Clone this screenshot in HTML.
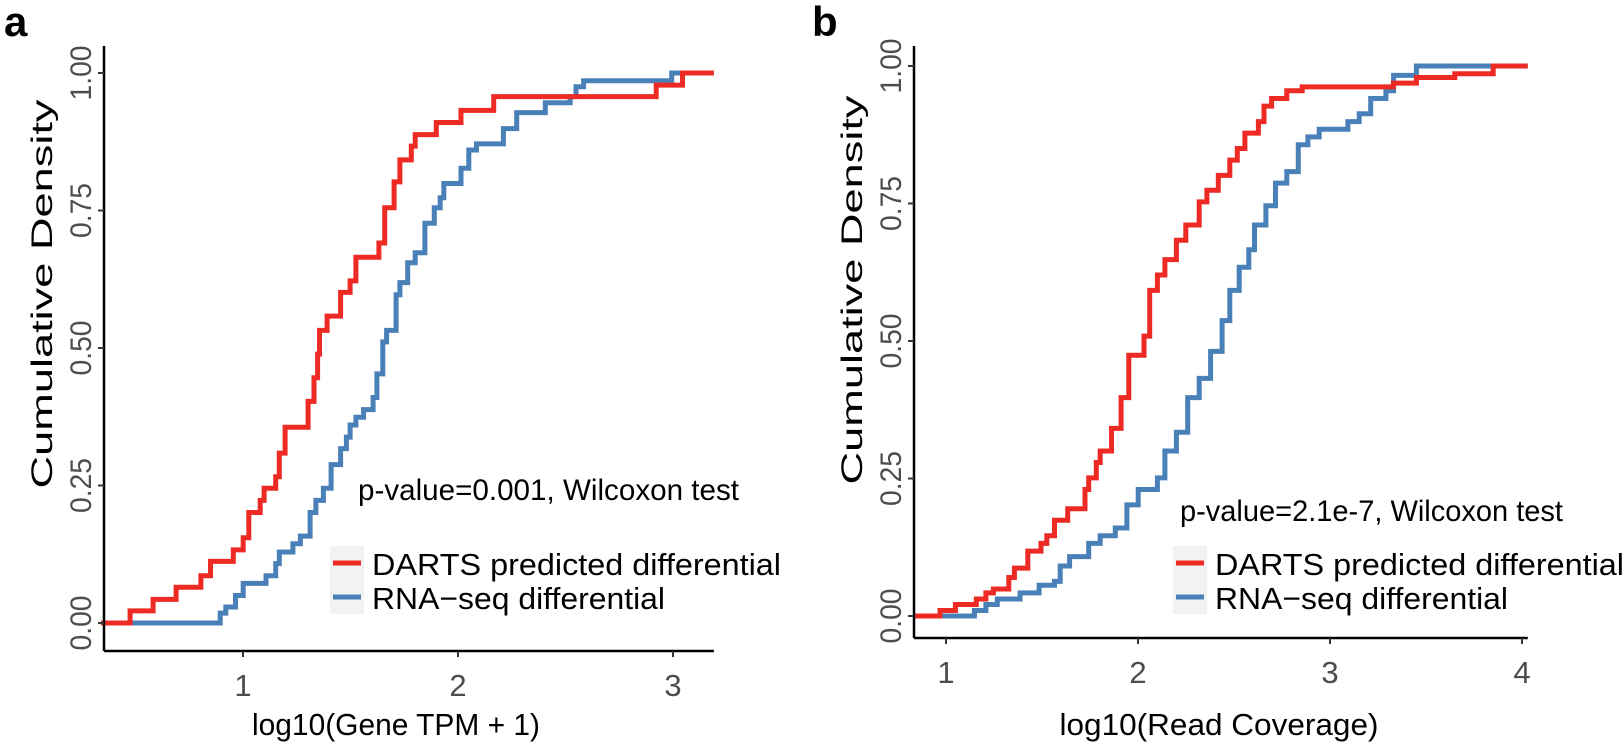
<!DOCTYPE html>
<html><head><meta charset="utf-8"><style>
html,body{margin:0;padding:0;background:#fff;}
svg{display:block;font-family:"Liberation Sans",Arial,sans-serif;}
</style></head><body>
<svg id="fig" width="1624" height="748" viewBox="0 0 1624 748" xmlns="http://www.w3.org/2000/svg">
<g id="pa"></g>
<g id="pb"></g>
</svg>
<script>
// Panel a data (log10 Gene TPM + 1 vs cumulative density)
const aRedX = [0.475,0.582,0.689,0.804,0.849,0.955,1.001,1.027,1.080,1.098,1.152,1.169,1.196,1.303,1.330,1.347,1.356,1.391,1.454,1.498,1.525,1.632,1.659,1.703,1.730,1.783,1.801,1.899,2.014,2.166,2.922,3.044];
const aRedY = [0.022,0.043,0.065,0.086,0.112,0.133,0.155,0.201,0.223,0.245,0.266,0.309,0.356,0.403,0.446,0.489,0.532,0.558,0.601,0.622,0.665,0.691,0.755,0.802,0.842,0.867,0.888,0.910,0.932,0.957,0.978,1.0];
const aBlueX = [0.894,0.920,0.965,1.001,1.107,1.152,1.169,1.232,1.267,1.312,1.339,1.374,1.410,1.454,1.481,1.498,1.525,1.561,1.605,1.623,1.650,1.668,1.712,1.730,1.766,1.801,1.846,1.890,1.917,1.934,2.014,2.050,2.086,2.211,2.273,2.406,2.522,2.549,2.584,2.994];
const aBlueY = [0.018,0.029,0.050,0.072,0.086,0.108,0.129,0.144,0.158,0.201,0.223,0.245,0.288,0.317,0.338,0.360,0.374,0.388,0.410,0.453,0.511,0.532,0.597,0.619,0.655,0.673,0.727,0.755,0.773,0.799,0.827,0.860,0.871,0.899,0.928,0.946,0.957,0.975,0.986,1.0];
// Panel b data (log10 Read Coverage vs cumulative density)
const bRedX = [0.969,1.049,1.158,1.208,1.247,1.327,1.356,1.426,1.495,1.525,1.565,1.634,1.724,1.743,1.783,1.803,1.862,1.912,1.952,2.031,2.061,2.101,2.140,2.200,2.249,2.319,2.359,2.418,2.478,2.517,2.557,2.627,2.656,2.696,2.775,2.855,3.330,3.450,3.650,3.850];
const bRedY = [0.010,0.021,0.031,0.042,0.049,0.070,0.087,0.118,0.132,0.146,0.174,0.195,0.230,0.251,0.279,0.300,0.341,0.397,0.474,0.509,0.592,0.620,0.648,0.683,0.711,0.753,0.774,0.801,0.829,0.850,0.878,0.899,0.927,0.941,0.955,0.962,0.969,0.979,0.986,1.0];
const bBlueX = [1.148,1.208,1.267,1.386,1.485,1.565,1.595,1.644,1.743,1.803,1.882,1.942,2.001,2.101,2.140,2.200,2.259,2.319,2.378,2.438,2.478,2.527,2.577,2.607,2.666,2.716,2.775,2.835,2.885,2.944,3.093,3.152,3.212,3.291,3.331,3.450];
const bBlueY = [0.010,0.021,0.031,0.042,0.056,0.063,0.091,0.108,0.132,0.146,0.160,0.202,0.230,0.251,0.300,0.334,0.397,0.432,0.481,0.537,0.592,0.634,0.666,0.711,0.746,0.787,0.808,0.857,0.871,0.885,0.899,0.913,0.941,0.955,0.983,1.0];
const yTicks = [0, 0.25, 0.5, 0.75, 1];
const yTickLabels = ["0.00","0.25","0.50","0.75","1.00"];
const aXTicks = [1, 2, 3];
const bXTicks = [1, 2, 3, 4];

const NS = "http://www.w3.org/2000/svg";
function mk(parent, tag, attrs, text){
  const e = document.createElementNS(NS, tag);
  for (const k in attrs) e.setAttribute(k, attrs[k]);
  if (text !== undefined) e.textContent = text;
  parent.appendChild(e);
  return e;
}
function drawPanel(cfg){
  const g = document.getElementById(cfg.id);
  const X = v => cfg.x1 + (v - 1) * cfg.unit;
  const Y = p => cfg.y0 - p * cfg.yspan;
  const xL = X(cfg.xmin), xR = X(cfg.xmax);
  const lt = mk(g, "text", {x: cfg.letterX, y: 36, "font-size": 42, "font-weight": "bold", fill: "#000"}, cfg.letter);
  
  
  function series(xs, ys, color, name){
    let d = "M" + xL + "," + Y(0);
    for (let i = 0; i < xs.length; i++){
      d += " H" + X(xs[i]).toFixed(1) + " V" + Y(ys[i]).toFixed(1);
    }
    d += " H" + xR;
    const p = mk(g, "path", {d: d, fill: "none", stroke: color, "stroke-width": 5, "stroke-linejoin": "miter"});
    
    
  }
  series(cfg.blueX, cfg.blueY, "#4a80b8", "rna-seq-cdf-line");
  series(cfg.redX, cfg.redY, "#ee2a24", "darts-cdf-line");
  const ya = mk(g, "line", {x1: cfg.axX, y1: 46, x2: cfg.axX, y2: cfg.axY, stroke: "#000", "stroke-width": 2.5});
  
  
  const xa = mk(g, "line", {x1: cfg.axX, y1: cfg.axY, x2: xR, y2: cfg.axY, stroke: "#000", "stroke-width": 2.5});
  
  
  yTicks.forEach((t, i) => {
    const y = Y(t);
    const tk = mk(g, "line", {x1: cfg.axX - 6, y1: y, x2: cfg.axX, y2: y, stroke: "#333", "stroke-width": 2});
    
    
    const tl = mk(g, "text", {x: 0, y: 0, transform: "translate(" + (cfg.axX - 13) + "," + y + ") rotate(-90)", "text-anchor": "middle", "font-size": 30, fill: "#4d4d4d", textLength: 55, lengthAdjust: "spacingAndGlyphs"}, yTickLabels[i]);
    
    
  });
  cfg.xTicks.forEach(t => {
    const x = X(t);
    const tk = mk(g, "line", {x1: x, y1: cfg.axY, x2: x, y2: cfg.axY + 6, stroke: "#333", "stroke-width": 2});
    
    
    const tl = mk(g, "text", {x: x, y: cfg.axY + 45, "text-anchor": "middle", "font-size": 31, fill: "#4d4d4d"}, String(t));
    
    
  });
  const xt = mk(g, "text", {x: cfg.xTitleX, y: 735, "text-anchor": "middle", "font-size": 31, fill: "#000", textLength: cfg.xTitleLen, lengthAdjust: "spacingAndGlyphs"}, cfg.xTitle);
  
  
  const yt = mk(g, "text", {x: 0, y: 0, transform: "translate(" + (cfg.axX - 52) + "," + cfg.yTitleY + ") rotate(-90)", "text-anchor": "middle", "font-size": 30, fill: "#000", textLength: 389, lengthAdjust: "spacingAndGlyphs"}, "Cumulative Density");
  
  
  const pv = mk(g, "text", {x: cfg.pX, y: cfg.pY, "font-size": 30, fill: "#000", textLength: cfg.pLen, lengthAdjust: "spacingAndGlyphs"}, cfg.pText);
  
  
  const entries = [["#ee2a24", "DARTS predicted differential", "legend-entry-darts", 409], ["#4a80b8", "RNA\u2212seq differential", "legend-entry-rna-seq", 293]];
  entries.forEach((e, i) => {
    const ly = cfg.legY + i * 34;
    const lg = mk(g, "g", {});
    
    
    mk(lg, "rect", {x: cfg.legX, y: ly, width: 34, height: 34, fill: "#f2f2f2"});
    mk(lg, "line", {x1: cfg.legX + 3, y1: ly + 17, x2: cfg.legX + 31, y2: ly + 17, stroke: e[0], "stroke-width": 5});
    mk(lg, "text", {x: cfg.legX + 42, y: ly + 29, "font-size": 31, fill: "#000", textLength: e[3], lengthAdjust: "spacingAndGlyphs"}, e[1]);
  });
}
drawPanel({id: "pa", letter: "a", letterX: 4, x1: 243, unit: 215, y0: 623, yspan: 550, xmin: 0.34, xmax: 3.19, axX: 104, axY: 651,
  xTicks: aXTicks, xTitle: "log10(Gene TPM + 1)", xTitleX: 396, xTitleLen: 288, yTitleY: 294, redX: aRedX, redY: aRedY, blueX: aBlueX, blueY: aBlueY,
  pX: 358, pY: 500, pLen: 381, pText: "p-value=0.001, Wilcoxon test", legX: 330, legY: 546});
drawPanel({id: "pb", letter: "b", letterX: 812, x1: 946, unit: 192, y0: 616, yspan: 550, xmin: 0.84, xmax: 4.03, axX: 914, axY: 638,
  xTicks: bXTicks, xTitle: "log10(Read Coverage)", xTitleX: 1219, xTitleLen: 319, yTitleY: 290, redX: bRedX, redY: bRedY, blueX: bBlueX, blueY: bBlueY,
  pX: 1180, pY: 521, pLen: 383, pText: "p-value=2.1e-7, Wilcoxon test", legX: 1173, legY: 546});
</script>
</body></html>
